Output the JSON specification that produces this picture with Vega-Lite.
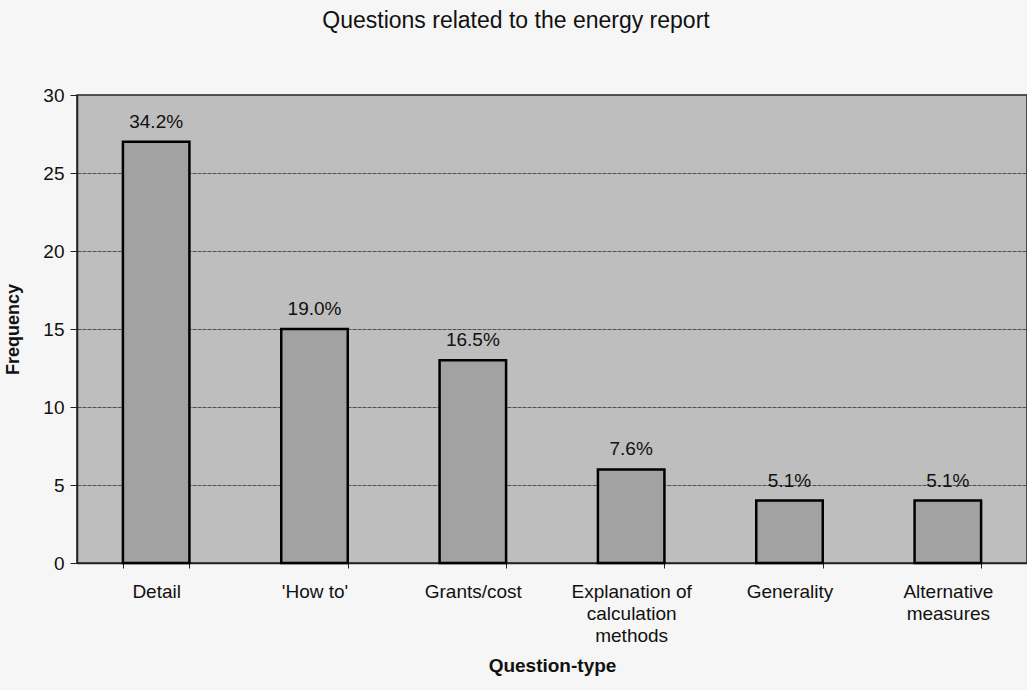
{
  "$schema": "https://vega.github.io/schema/vega-lite/v6.json",
  "width": 950,
  "height": 468,
  "autosize": {"type": "none"},
  "padding": {"left": 77, "top": 95, "right": 0, "bottom": 127},
  "background": "#f6f6f6",
  "title": {
    "text": "Questions related to the energy report",
    "font": "Liberation Sans",
    "fontSize": 23,
    "fontWeight": "normal",
    "color": "#111111",
    "anchor": "middle",
    "dx": -36,
    "offset": 53
  },
  "config": {
    "view": {"fill": "#bebebe", "stroke": "#222222", "strokeWidth": 1.5},
    "font": "Liberation Sans"
  },
  "data": {
    "values": [
      {"type": "Detail", "count": 27, "share": 0.342},
      {"type": "'How to'", "count": 15, "share": 0.190},
      {"type": "Grants/cost", "count": 13, "share": 0.165},
      {"type": "Explanation of|calculation|methods", "count": 6, "share": 0.076},
      {"type": "Generality", "count": 4, "share": 0.051},
      {"type": "Alternative|measures", "count": 4, "share": 0.051}
    ]
  },
  "encoding": {
    "x": {
      "field": "type",
      "type": "nominal",
      "sort": null,
      "scale": {"paddingInner": 0.58, "paddingOuter": 0.29},
      "axis": {
        "title": "Question-type",
        "titleFont": "Liberation Sans",
        "titleFontSize": 19,
        "titleFontWeight": "bold",
        "titleColor": "#111111",
        "titlePadding": 11,
        "labelExpr": "split(datum.label, '|')",
        "labelAngle": 0,
        "labelFontSize": 19,
        "labelColor": "#111111",
        "labelPadding": 14,
        "labelLineHeight": 22,
        "tickBand": "extent",
        "tickSize": 5,
        "tickColor": "#222222",
        "domainColor": "#222222",
        "domainWidth": 1.5
      }
    }
  },
  "layer": [
    {
      "mark": {"type": "bar", "fill": "#a2a2a2", "stroke": "#000000", "strokeWidth": 2.5},
      "encoding": {
        "y": {
          "field": "count",
          "type": "quantitative",
          "scale": {"domain": [0, 30]},
          "axis": {
            "title": "Frequency",
            "titleFont": "Liberation Sans",
            "titleFontSize": 18,
            "titleFontWeight": "bold",
            "titleColor": "#111111",
            "titlePadding": 20,
            "values": [0, 5, 10, 15, 20, 25, 30],
            "labelFontSize": 19,
            "labelColor": "#111111",
            "labelPadding": 6,
            "tickSize": 7,
            "tickColor": "#222222",
            "domainColor": "#222222",
            "domainWidth": 1.5,
            "grid": true,
            "gridColor": "#505050",
            "gridWidth": 1,
            "gridDash": [4, 1]
          }
        }
      }
    },
    {
      "mark": {"type": "text", "baseline": "alphabetic", "dy": -14, "fontSize": 19, "color": "#111111"},
      "encoding": {
        "y": {"field": "count", "type": "quantitative"},
        "text": {"field": "share", "type": "quantitative", "format": ".1%"}
      }
    }
  ]
}
